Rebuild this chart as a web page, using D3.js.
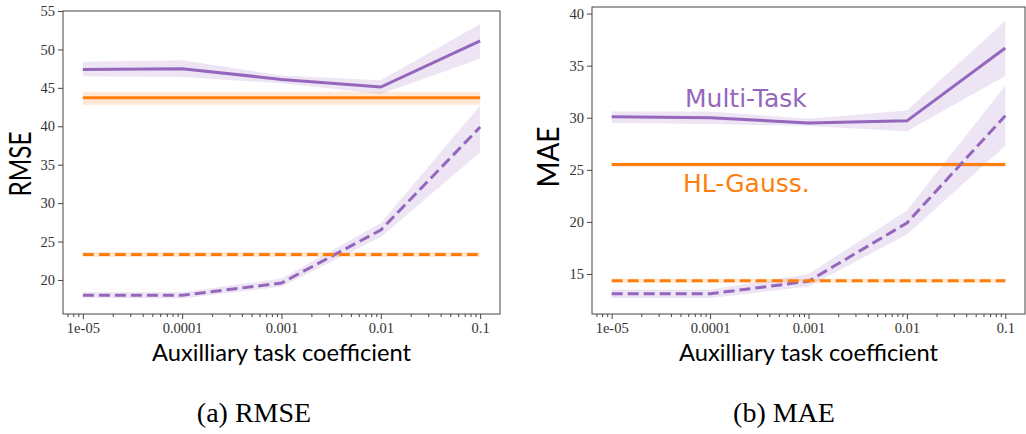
<!DOCTYPE html>
<html>
<head>
<meta charset="utf-8">
<script src="https://cdn.jsdelivr.net/npm/d3@7"></script>
<style>
  body { margin: 0; background: #fff; }
  svg { display: block; }
</style>
</head>
<body>
<svg id="chart" width="1026" height="434"></svg>
<script>
// x values and their labels
var coefs = [1e-5, 1e-4, 1e-3, 1e-2, 1e-1]
var coefLabels = ["1e-05", "0.0001", "0.001", "0.01", "0.1"]

// RMSE panel
var rmseMulti    = [47.4, 47.5, 46.1, 45.1, 51.1]
var rmseMultiLo  = [46.5, 46.4, 45.6, 44.2, 48.8]
var rmseMultiHi  = [48.4, 48.6, 46.6, 46.0, 53.3]
var rmseHL       = [43.7, 43.7, 43.7, 43.7, 43.7]
var rmseHLLo     = [42.8, 42.8, 42.8, 42.8, 42.8]
var rmseHLHi     = [44.5, 44.5, 44.5, 44.5, 44.5]
var rmseMultiD   = [18.0, 18.0, 19.6, 26.5, 39.9]
var rmseMultiDLo = [17.7, 17.6, 19.1, 25.6, 36.6]
var rmseMultiDHi = [18.4, 18.4, 20.2, 27.4, 42.7]
var rmseHLD      = [23.3, 23.3, 23.3, 23.3, 23.3]
var rmseHLDLo    = [23.0, 23.0, 23.0, 23.0, 23.0]
var rmseHLDHi    = [23.6, 23.6, 23.6, 23.6, 23.6]
var rmseTicks = [20, 25, 30, 35, 40, 45, 50, 55]

// MAE panel
var maeMulti    = [30.1, 30.0, 29.5, 29.7, 36.7]
var maeMultiLo  = [29.5, 29.4, 29.2, 28.7, 34.0]
var maeMultiHi  = [30.6, 30.6, 29.9, 30.7, 39.3]
var maeHL       = [25.5, 25.5, 25.5, 25.5, 25.5]
var maeHLLo     = [25.3, 25.3, 25.3, 25.3, 25.3]
var maeHLHi     = [25.7, 25.7, 25.7, 25.7, 25.7]
var maeMultiD   = [13.1, 13.1, 14.3, 19.9, 30.2]
var maeMultiDLo = [12.7, 12.7, 13.8, 18.8, 27.3]
var maeMultiDHi = [13.5, 13.5, 15.0, 21.1, 33.1]
var maeHLD      = [14.35, 14.35, 14.35, 14.35, 14.35]
var maeHLDLo    = [14.15, 14.15, 14.15, 14.15, 14.15]
var maeHLDHi    = [14.55, 14.55, 14.55, 14.55, 14.55]
var maeTicks = [15, 20, 25, 30, 35, 40]

var purple = "#9467bd"
var orange = "#ff7f0e"

var svg = d3.select("#chart")

// minor tick positions on the log axis
var minorTicks = []
for (var e = -6; e <= -1; e++) {
  for (var k = 2; k <= 9; k++) minorTicks.push(k * Math.pow(10, e))
}

function styleAxis(sel) {
  sel.select(".domain").remove()
  sel.selectAll(".tick line").attr("stroke", "#444")
  sel.selectAll(".tick text").attr("font-family", "'Liberation Serif', serif")
    .attr("font-size", 14.5).attr("fill", "#333")
}

function panel(opt) {
  var x = d3.scaleLog().domain([Math.pow(10, -5.2), Math.pow(10, -0.8)]).range([opt.left, opt.right])
  var y = d3.scaleLinear().domain(opt.ydom).range([opt.bottom, opt.top])
  var g = svg.append("g")

  var mins = minorTicks.filter(function(v){ return x(v) > opt.left && x(v) < opt.right })
  g.append("g").attr("transform", "translate(0," + opt.bottom + ")")
    .call(d3.axisBottom(x).tickValues(mins).tickSize(3).tickFormat(""))
    .call(styleAxis)
  g.append("g").attr("transform", "translate(0," + opt.bottom + ")")
    .call(d3.axisBottom(x).tickValues(coefs).tickSize(5).tickPadding(4)
      .tickFormat(function(d, i){ return coefLabels[i] }))
    .call(styleAxis)
  g.append("g").attr("transform", "translate(" + opt.left + ",0)")
    .call(d3.axisLeft(y).tickValues(opt.yticks).tickSize(5).tickPadding(3))
    .call(styleAxis)

  var area = d3.area().x(function(d){ return x(d.x) }).y0(function(d){ return y(d.lo) }).y1(function(d){ return y(d.hi) })
  var line = d3.line().x(function(d){ return x(d.x) }).y(function(d){ return y(d.v) })

  opt.series.forEach(function(s){
    var pts = coefs.map(function(c, i){ return {x: c, v: s.v[i], lo: s.lo[i], hi: s.hi[i]} })
    g.append("path").datum(pts).attr("d", area).attr("fill", s.color).attr("fill-opacity", 0.17)
  })
  opt.series.forEach(function(s){
    var pts = coefs.map(function(c, i){ return {x: c, v: s.v[i]} })
    g.append("path").datum(pts).attr("d", line).attr("fill", "none")
      .attr("stroke", s.color).attr("stroke-width", 3)
      .attr("stroke-dasharray", s.dash ? "11,5" : null)
  })

  g.append("rect").attr("x", opt.left).attr("y", opt.top)
    .attr("width", opt.right - opt.left).attr("height", opt.bottom - opt.top)
    .attr("fill", "none").attr("stroke", "#444").attr("stroke-width", 1)

  var cx = (opt.left + opt.right) / 2
  g.append("text").attr("x", cx).attr("y", 361).attr("text-anchor", "middle")
    .attr("font-family", "Lato, sans-serif").attr("font-size", 24)
    .attr("textLength", 259).attr("lengthAdjust", "spacingAndGlyphs")
    .text("Auxilliary task coefficient")

  g.append("text").attr("transform", "translate(" + opt.ylabX + "," + opt.ylabY + ") rotate(-90)")
    .attr("text-anchor", "middle").attr("font-family", "Lato, sans-serif").attr("font-size", 30)
    .attr("textLength", opt.ylabW).attr("lengthAdjust", "spacingAndGlyphs")
    .text(opt.ylabel)

  g.append("text").attr("x", opt.capX).attr("y", 422).attr("text-anchor", "middle")
    .attr("font-family", "'Liberation Serif', serif").attr("font-size", 28)
    .text(opt.caption)
  return {x: x, y: y}
}

panel({
  left: 63, right: 500, top: 11, bottom: 314, ydom: [15.57, 55], yticks: rmseTicks,
  ylabel: "RMSE", ylabX: 31, ylabY: 164, ylabW: 65, caption: "(a) RMSE", capX: 254,
  series: [
    {v: rmseMulti, lo: rmseMultiLo, hi: rmseMultiHi, color: purple},
    {v: rmseHL, lo: rmseHLLo, hi: rmseHLHi, color: orange},
    {v: rmseMultiD, lo: rmseMultiDLo, hi: rmseMultiDHi, color: purple, dash: true},
    {v: rmseHLD, lo: rmseHLDLo, hi: rmseHLDHi, color: orange, dash: true}
  ]
})

panel({
  left: 592, right: 1025, top: 7, bottom: 314, ydom: [11.16, 40.63], yticks: maeTicks,
  ylabel: "MAE", ylabX: 559, ylabY: 157, ylabW: 61, caption: "(b) MAE", capX: 784,
  series: [
    {v: maeMulti, lo: maeMultiLo, hi: maeMultiHi, color: purple},
    {v: maeHL, lo: maeHLLo, hi: maeHLHi, color: orange},
    {v: maeMultiD, lo: maeMultiDLo, hi: maeMultiDHi, color: purple, dash: true},
    {v: maeHLD, lo: maeHLDLo, hi: maeHLDHi, color: orange, dash: true}
  ]
})

// in-plot labels
svg.append("text").attr("x", 685).attr("y", 107).attr("font-family", "DejaVu Sans, sans-serif")
  .attr("font-size", 25).attr("fill", purple).text("Multi-Task")
svg.append("text").attr("x", 683).attr("y", 192).attr("font-family", "DejaVu Sans, sans-serif")
  .attr("font-size", 25).attr("fill", orange).text("HL-Gauss.")
</script>
</body>
</html>
